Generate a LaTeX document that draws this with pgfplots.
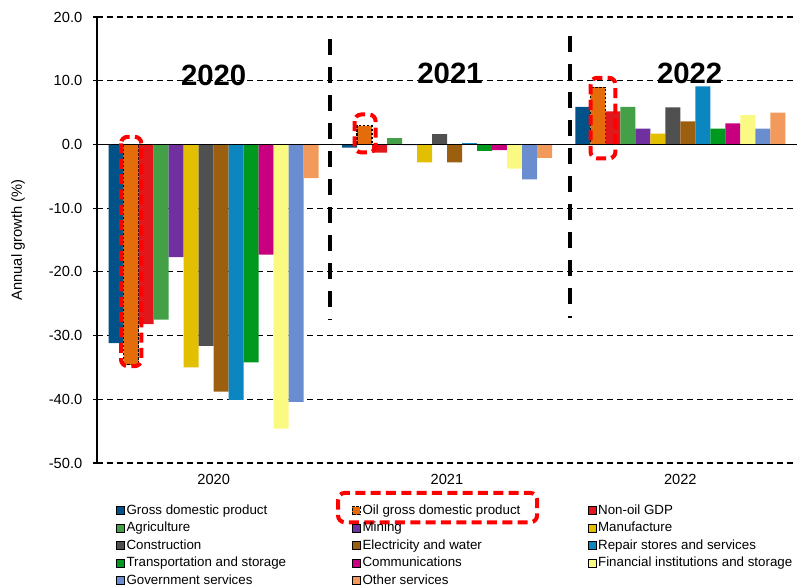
\documentclass[border=0pt]{standalone}
\usepackage{fontspec}
\setmainfont{Liberation Sans}
\usepackage{pgfplots}
\pgfplotsset{compat=1.18}
\usepackage{pgfplotstable}

\definecolor{gdpc}{HTML}{005288}
\definecolor{oilc}{HTML}{E46C0A}
\definecolor{nonoilc}{HTML}{E2171B}
\definecolor{agric}{HTML}{43A047}
\definecolor{miningc}{HTML}{7030A0}
\definecolor{manufc}{HTML}{E2BF00}
\definecolor{constrc}{HTML}{505050}
\definecolor{elecc}{HTML}{9C5F10}
\definecolor{repairc}{HTML}{0B86C1}
\definecolor{transpc}{HTML}{00991F}
\definecolor{commc}{HTML}{C8007F}
\definecolor{finc}{HTML}{FAFA82}
\definecolor{govc}{HTML}{6A8DCF}
\definecolor{otherc}{HTML}{F2995C}

\pgfplotstableread{
x gdp oil nonoil agri mining manuf constr elec repair transp comm fin gov other
0 -31.2 -34.6 -28.2 -27.5 -17.7 -35.0 -31.6 -38.8 -40.1 -34.2 -17.3 -44.6 -40.4 -5.3
1 -0.5 2.9 -1.3 1.0 -0.1 -2.8 1.6 -2.8 0.2 -1.0 -0.9 -3.8 -5.5 -2.1
2 5.9 9.0 5.2 5.9 2.5 1.7 5.8 3.6 9.1 2.5 3.3 4.6 2.5 5.0
}\datatab

\newcommand{\lgbox}[1]{\makebox[167.25pt][l]{#1}}

\begin{document}
\begin{tikzpicture}
\begin{axis}[
  scale only axis, width=525pt, height=334.5pt,
  xmin=-0.5, xmax=2.5, ymin=-50, ymax=20,
  ybar=0pt, bar width=11.25pt,
  xtick={0,1,2}, xticklabels={2020,2021,2022},
  ytick={-50,-40,...,20},
  font=\fontsize{10}{12}\selectfont,
  ticklabel style={font=\fontsize{11}{13}\selectfont},
  /pgf/number format/assume math mode=true,
  yticklabel style={xshift=-4.5pt, /pgf/number format/.cd, fixed, fixed zerofill, precision=1},
  xticklabel style={yshift=-2pt},
  axis x line*=bottom, axis y line*=left,
  x axis line style={draw=none},
  y axis line style={-, line width=1pt, black},
  xtick style={draw=none},
  ytick style={black, line width=0.8pt},
  tick align=outside, major tick length=3pt,
  ymajorgrids,
  major grid style={black, line width=0.8pt, dash pattern=on 4.5pt off 3pt},
  ylabel={Annual growth (\%)},
  every axis y label/.style={at={(rel axis cs:-0.1129,0.5)}, anchor=center, rotate=90, font=\fontsize{11}{13}\selectfont},
  clip=false,
  legend columns=3,
  legend cell align=left,
  legend style={draw=none, fill=none, at={(0,0)}, anchor=north west,
    xshift=14.25pt, yshift=-30.5pt, inner sep=0pt, outer sep=0pt,
    column sep=0pt, row sep=2.6pt, font=\fontsize{10}{12}\selectfont,
    nodes={inner xsep=1.5pt, inner ysep=0pt, text height=8pt, text depth=2.5pt}},
  legend image code/.code={\draw[#1] (0pt,-3pt) rectangle (6pt,3pt);},
  every axis plot/.append style={draw=none},
]
\addplot[fill=gdpc] table[x=x,y=gdp]{\datatab}; \addlegendentry{\lgbox{Gross domestic product}}
\addplot[fill=oilc, draw=black, line width=0.8pt, dash pattern=on 2pt off 1pt] table[x=x,y=oil]{\datatab}; \addlegendentry{\lgbox{Oil gross domestic product}}
\addplot[fill=nonoilc] table[x=x,y=nonoil]{\datatab}; \addlegendentry{Non-oil GDP}
\addplot[fill=agric] table[x=x,y=agri]{\datatab}; \addlegendentry{\lgbox{Agriculture}}
\addplot[fill=miningc] table[x=x,y=mining]{\datatab}; \addlegendentry{\lgbox{Mining}}
\addplot[fill=manufc] table[x=x,y=manuf]{\datatab}; \addlegendentry{Manufacture}
\addplot[fill=constrc] table[x=x,y=constr]{\datatab}; \addlegendentry{\lgbox{Construction}}
\addplot[fill=elecc] table[x=x,y=elec]{\datatab}; \addlegendentry{\lgbox{Electricity and water}}
\addplot[fill=repairc] table[x=x,y=repair]{\datatab}; \addlegendentry{Repair stores and services}
\addplot[fill=transpc] table[x=x,y=transp]{\datatab}; \addlegendentry{\lgbox{Transportation and storage}}
\addplot[fill=commc] table[x=x,y=comm]{\datatab}; \addlegendentry{\lgbox{Communications}}
\addplot[fill=finc] table[x=x,y=fin]{\datatab}; \addlegendentry{Financial institutions and storage}
\addplot[fill=govc] table[x=x,y=gov]{\datatab}; \addlegendentry{\lgbox{Government services}}
\addplot[fill=otherc] table[x=x,y=other]{\datatab}; \addlegendentry{\lgbox{Other services}}

\draw[black, line width=1.2pt] (axis cs:-0.5,0) -- (axis cs:2.5,0);
\draw[black, line width=3pt, dash pattern=on 12pt off 9pt] (axis cs:0.5007,16.5) -- (axis cs:0.5007,-27.5);
\draw[black, line width=3pt, dash pattern=on 12pt off 9pt] (axis cs:1.525,17.0) -- (axis cs:1.525,-27.2);

\node[font=\bfseries\fontsize{22}{22}\selectfont] at (axis cs:0,10.8) {2020};
\node[font=\bfseries\fontsize{22}{22}\selectfont] at (axis cs:1.013,11.2) {2021};
\node[font=\bfseries\fontsize{22}{22}\selectfont] at (axis cs:2.04,11.2) {2022};

\draw[red, line width=3pt, dash pattern=on 7.5pt off 4pt, rounded corners=5pt] (axis cs:-0.397,1.2) rectangle (axis cs:-0.31,-34.8);
\draw[red, line width=3pt, dash pattern=on 7.5pt off 4pt, rounded corners=5pt] (axis cs:0.604,4.7) rectangle (axis cs:0.694,-1.26);
\draw[red, line width=3pt, dash pattern=on 7.5pt off 4pt, rounded corners=5pt] (axis cs:1.615,10.46) rectangle (axis cs:1.722,-2.2);
\draw[red, line width=3pt, dash pattern=on 7.5pt off 4pt, rounded corners=5pt] (axis cs:0.533,-54.7) rectangle (axis cs:1.386,-59.3);

\path (rel axis cs:0,0) ++(-72.75pt,-90.75pt) rectangle ++(599.25pt,438pt);
\end{axis}
\end{tikzpicture}
\end{document}
